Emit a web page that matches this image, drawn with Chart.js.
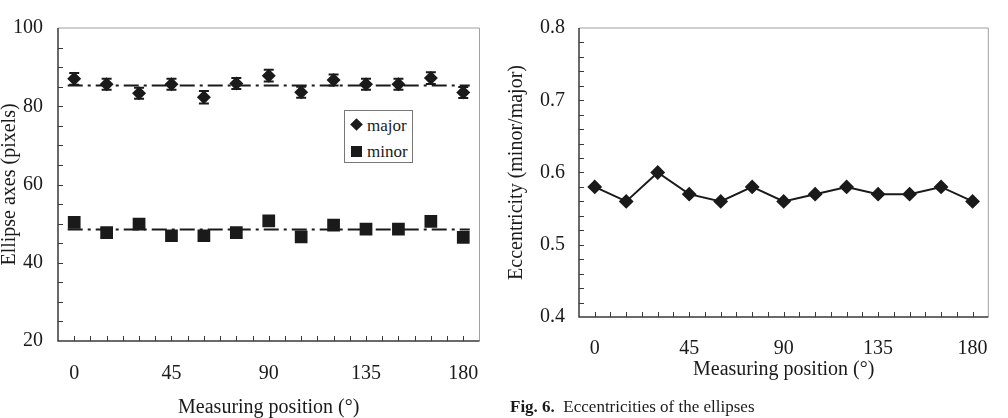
<!DOCTYPE html>
<html>
<head>
<meta charset="utf-8">
<title>Ellipse axes and eccentricities</title>
<script src="https://cdn.jsdelivr.net/npm/chart.js"></script>
<style>
    body {
        margin: 0;
        background: #fff;
        font-family: 'Liberation Serif', 'Times New Roman', serif;
        color: #1a1a1a;
    }
    #wrap { position: relative; width: 1008px; height: 418px; overflow: hidden; }
    #leftChart { position: absolute; left: 0; top: 0; }
    #rightChart { position: absolute; left: 500px; top: 0; }
    #legend {
        position: absolute; left: 344px; top: 110px;
        width: 67px; height: 51px;
        border: 1px solid #777; background: #fff;
        font-size: 17px;
    }
    #legend .item { position: absolute; left: 22px; line-height: 17px; }
    #legend .mk { position: absolute; background: #1a1a1a; }
    #caption { position: absolute; left: 510px; top: 397px; font-size: 17px; white-space: nowrap; }
</style>
</head>
<body>
<div id="wrap">
    <canvas id="leftChart" width="500" height="418"></canvas>
    <canvas id="rightChart" width="508" height="418"></canvas>
    <div id="legend">
        <div class="mk" style="left:7px;top:9px;width:9px;height:9px;transform:rotate(45deg)"></div>
        <div class="item" style="top:6px">major</div>
        <div class="mk" style="left:6px;top:35px;width:11px;height:11px"></div>
        <div class="item" style="top:32px">minor</div>
    </div>
    <div id="caption"><b>Fig. 6.</b>&nbsp; Eccentricities of the ellipses</div>
</div>
<script>
// measuring positions (degrees)
const positions = [0, 15, 30, 45, 60, 75, 90, 105, 120, 135, 150, 165, 180];
const xTickLabels = [0, 45, 90, 135, 180];

// ellipse axes (pixels)
const majorAxis = [87.0, 85.6, 83.3, 85.6, 82.3, 85.8, 87.8, 83.6, 86.7, 85.6, 85.6, 87.2, 83.5];
const majorErr  = [1.5, 1.4, 1.4, 1.4, 1.6, 1.4, 1.5, 1.4, 1.4, 1.4, 1.4, 1.5, 1.4];
const minorAxis = [50.3, 47.7, 49.9, 46.9, 46.9, 47.7, 50.7, 46.6, 49.6, 48.6, 48.6, 50.6, 46.5];
const meanX = [-3, 183];
const majorMean = 85.3;
const minorMean = 48.5;

// eccentricity (minor/major)
const eccentricity = [0.58, 0.56, 0.60, 0.57, 0.56, 0.58, 0.56, 0.57, 0.58, 0.57, 0.57, 0.58, 0.56];

const serif = "'Liberation Serif', 'Times New Roman', serif";
const ink = '#1a1a1a';

function pts(xs, ys) {
    return xs.map((x, i) => ({ x: x, y: ys[i] }));
}

// box around the plot, inward ticks and error bars
const framePlugin = {
    id: 'frame',
    beforeDatasetsDraw(chart, args, opts) {
        const ctx = chart.ctx, a = chart.chartArea;
        const x = chart.scales.x, y = chart.scales.y;
        ctx.save();
        ctx.strokeStyle = '#a0a0a0';
        ctx.lineWidth = 1;
        ctx.beginPath();
        ctx.moveTo(a.left, a.top); ctx.lineTo(a.right, a.top); ctx.lineTo(a.right, a.bottom);
        ctx.stroke();
        ctx.strokeStyle = '#3a3a3a';
        ctx.lineWidth = 1.5;
        ctx.beginPath();
        ctx.moveTo(a.left, a.top); ctx.lineTo(a.left, a.bottom); ctx.lineTo(a.right, a.bottom);
        ctx.stroke();

        ctx.lineWidth = 1;
        ctx.beginPath();
        for (let v = opts.xFrom; v <= opts.xTo + 1e-9; v += opts.xStep) {
            const px = Math.round(x.getPixelForValue(v)) + 0.5;
            ctx.moveTo(px, a.bottom); ctx.lineTo(px, a.bottom - 5);
        }
        for (let v = y.min + opts.yStep; v < y.max - 1e-9; v += opts.yStep) {
            const py = Math.round(y.getPixelForValue(v)) + 0.5;
            ctx.moveTo(a.left, py); ctx.lineTo(a.left + 5, py);
        }
        ctx.stroke();

        if (opts.errors) {
            const data = chart.data.datasets[opts.errors.dataset].data;
            ctx.strokeStyle = ink;
            ctx.lineWidth = 2;
            ctx.beginPath();
            data.forEach((p, i) => {
                const e = opts.errors.values[i];
                const px = x.getPixelForValue(p.x);
                const top = y.getPixelForValue(p.y + e);
                const bot = y.getPixelForValue(p.y - e);
                ctx.moveTo(px, top); ctx.lineTo(px, bot);
                ctx.moveTo(px - 5, top); ctx.lineTo(px + 5, top);
                ctx.moveTo(px - 5, bot); ctx.lineTo(px + 5, bot);
            });
            ctx.stroke();
        }
        ctx.restore();
    }
};

function xScale(height, labelPad) {
    return {
        type: 'linear', min: -7.5, max: 187.5,
        afterBuildTicks: s => { s.ticks = xTickLabels.map(v => ({ value: v })); },
        afterFit: s => { s.height = height; },
        grid: { display: false, drawTicks: false }, border: { display: false },
        ticks: { color: ink, padding: labelPad, font: { family: serif, size: 20 } },
        title: {
            display: true, text: 'Measuring position (°)', color: ink,
            padding: 0, font: { family: serif, size: 20, lineHeight: 1 }
        }
    };
}

// left: ellipse axes
new Chart(document.getElementById('leftChart'), {
    type: 'scatter',
    data: {
        datasets: [
            { label: 'major', data: pts(positions, majorAxis), pointStyle: 'rectRot',
              pointRadius: 7, pointHoverRadius: 7, backgroundColor: ink, borderColor: ink, borderWidth: 0 },
            { label: 'minor', data: pts(positions, minorAxis), pointStyle: 'rect',
              pointRadius: 9, pointHoverRadius: 9, backgroundColor: ink, borderColor: ink, borderWidth: 0 },
            { label: 'major mean', data: pts(meanX, [majorMean, majorMean]), showLine: true,
              pointRadius: 0, borderColor: ink, borderWidth: 2, borderDash: [15, 5, 3, 5] },
            { label: 'minor mean', data: pts(meanX, [minorMean, minorMean]), showLine: true,
              pointRadius: 0, borderColor: ink, borderWidth: 2, borderDash: [15, 5, 3, 5] }
        ]
    },
    options: {
        responsive: false,
        animation: false,
        devicePixelRatio: 1,
        layout: { padding: { top: 28, right: 19, bottom: 0, left: 0 } },
        plugins: {
            legend: { display: false },
            tooltip: { enabled: false },
            frame: { xFrom: 0, xTo: 180, xStep: 7.5, yStep: 5,
                     errors: { dataset: 0, values: majorErr } }
        },
        scales: {
            x: xScale(77, 21),
            y: {
                min: 20, max: 100,
                afterFit: s => { s.width = 58; },
                grid: { display: false, drawTicks: false }, border: { display: false },
                ticks: { stepSize: 20, color: ink, padding: 15, font: { family: serif, size: 20 } },
                title: {
                    display: true, text: 'Ellipse axes (pixels)', color: ink,
                    padding: 0, font: { family: serif, size: 20, lineHeight: 1 }
                }
            }
        }
    },
    plugins: [framePlugin]
});

// right: eccentricity
new Chart(document.getElementById('rightChart'), {
    type: 'scatter',
    data: {
        datasets: [
            { label: 'eccentricity', data: pts(positions, eccentricity), showLine: true,
              pointStyle: 'rectRot', pointRadius: 6, pointHoverRadius: 6,
              backgroundColor: ink, borderColor: ink, borderWidth: 2 }
        ]
    },
    options: {
        responsive: false,
        animation: false,
        devicePixelRatio: 1,
        layout: { padding: { top: 28, right: 11, bottom: 38, left: 0 } },
        plugins: {
            legend: { display: false },
            tooltip: { enabled: false },
            frame: { xFrom: 0, xTo: 180, xStep: 7.5, yStep: 0.02 }
        },
        scales: {
            x: xScale(63, 20),
            y: {
                min: 0.4, max: 0.8,
                afterFit: s => { s.width = 79; },
                grid: { display: false, drawTicks: false }, border: { display: false },
                ticks: { stepSize: 0.1, color: ink, padding: 14, font: { family: serif, size: 20 },
                         callback: v => v.toFixed(1) },
                title: {
                    display: true, text: 'Eccentricity (minor/major)', color: ink,
                    padding: { top: 7, bottom: 0 }, font: { family: serif, size: 20, lineHeight: 1 }
                }
            }
        }
    },
    plugins: [framePlugin]
});
</script>
</body>
</html>
